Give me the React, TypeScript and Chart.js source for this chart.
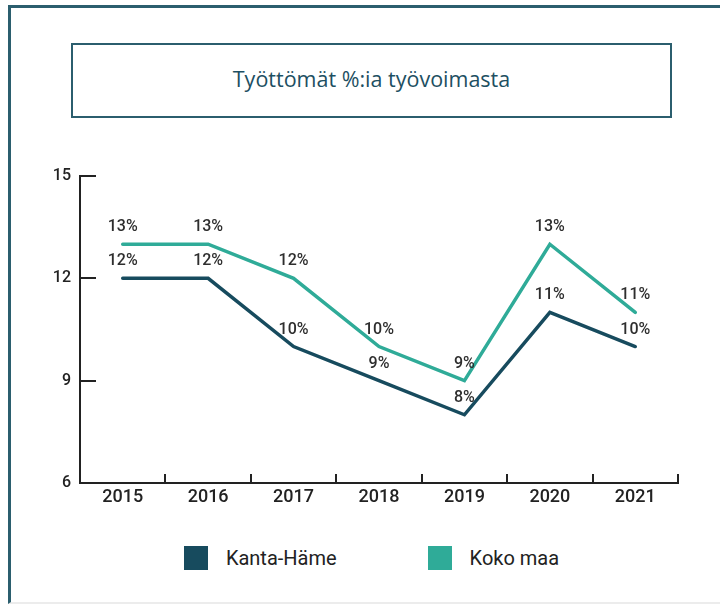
import React, { useEffect, useRef } from 'react';
import { Chart, registerables } from 'chart.js';

Chart.register(...registerables);

const years = ['2015', '2016', '2017', '2018', '2019', '2020', '2021'];
const kantaHame = [12, 12, 10, 9, 8, 11, 10];
const kokoMaa = [13, 13, 12, 10, 9, 13, 11];
const seriesNames = ['Kanta-Häme', 'Koko maa'];
const yMin = 6;
const yMax = 15;
const yStep = 3;
const titleText = 'Työttömät %:ia työvoimasta';

const DARK = '#174b5e';
const TEAL = '#2fab98';
const FRAME = '#2b5e6e';
const AXIS = '#222222';

const decorPlugin = {
  id: 'decor',
  afterDraw(chart: any) {
    const ctx = chart.ctx;
    const xs = chart.scales.x;
    const ys = chart.scales.y;
    ctx.save();
    ctx.strokeStyle = AXIS;
    ctx.lineWidth = 2;
    ys.ticks.forEach((_t: any, i: number) => {
      const py = Math.round(ys.getPixelForTick(i));
      ctx.beginPath();
      ctx.moveTo(xs.left, py);
      ctx.lineTo(xs.left + 16, py);
      ctx.stroke();
    });
    xs.ticks.forEach((_t: any, i: number) => {
      const px = Math.round(xs.getPixelForValue(i + 0.5));
      ctx.beginPath();
      ctx.moveTo(px, ys.bottom);
      ctx.lineTo(px, ys.bottom - 9);
      ctx.stroke();
    });
    ctx.restore();
  },
  afterDatasetsDraw(chart: any) {
    const ctx = chart.ctx;
    ctx.save();
    ctx.font = '500 16px Roboto';
    ctx.fillStyle = '#2e2e2e';
    ctx.textAlign = 'center';
    ctx.textBaseline = 'middle';
    chart.data.datasets.forEach((ds: any, di: number) => {
      const meta = chart.getDatasetMeta(di);
      meta.data.forEach((pt: any, i: number) => {
        ctx.fillText(`${ds.data[i]}%`, pt.x, pt.y - 17);
      });
    });
    ctx.restore();
  },
};

export default function App() {
  const canvasRef = useRef<HTMLCanvasElement | null>(null);

  useEffect(() => {
    if (!canvasRef.current) return;
    const chart = new Chart(canvasRef.current, {
      type: 'line',
      data: {
        labels: years,
        datasets: [
          {
            label: seriesNames[0],
            data: kantaHame,
            borderColor: DARK,
            backgroundColor: DARK,
            borderWidth: 3.5,
            pointRadius: 0,
            tension: 0,
            borderCapStyle: 'round',
            borderJoinStyle: 'miter',
          },
          {
            label: seriesNames[1],
            data: kokoMaa,
            borderColor: TEAL,
            backgroundColor: TEAL,
            borderWidth: 3.5,
            pointRadius: 0,
            tension: 0,
            borderCapStyle: 'round',
            borderJoinStyle: 'miter',
          },
        ],
      },
      options: {
        responsive: false,
        animation: false,
        layout: { padding: { top: 176, left: 40, right: 42, bottom: 17 } },
        plugins: {
          legend: { display: false },
          tooltip: { enabled: false },
          title: { display: false },
        },
        scales: {
          x: {
            type: 'category',
            offset: true,
            afterFit: (s: any) => { s.height = 30; },
            grid: { display: true, offset: true, drawOnChartArea: false, drawTicks: false },
            border: { display: true, color: AXIS, width: 2 },
            ticks: {
              color: '#222222',
              font: { family: 'Roboto', size: 18, weight: '500' },
              padding: 4,
              maxRotation: 0,
            },
          },
          y: {
            min: yMin,
            max: yMax,
            afterFit: (s: any) => { s.width = 40; },
            grid: { display: true, drawOnChartArea: false, drawTicks: false },
            border: { display: true, color: AXIS, width: 2 },
            ticks: {
              stepSize: yStep,
              color: '#222222',
              font: { family: 'Roboto', size: 16, weight: '500' },
              padding: 9,
            },
          },
        },
      },
      plugins: [decorPlugin],
    } as any);
    return () => chart.destroy();
  }, []);

  return (
    <div style={{ position: 'absolute', left: 0, top: 0, width: 720, height: 605, overflow: 'hidden', background: '#ffffff' }}>
      <div
        style={{
          position: 'absolute', left: 8, top: 5, width: 712, height: 599,
          borderTop: `3px solid ${FRAME}`, borderLeft: `3px solid ${FRAME}`,
          borderBottom: '2px solid #ececec', boxSizing: 'border-box',
        }}
      />
      <div
        style={{
          position: 'absolute', left: 71, top: 43, width: 601, height: 75,
          border: `2px solid ${FRAME}`, boxSizing: 'border-box',
          display: 'flex', alignItems: 'center', justifyContent: 'center',
          paddingBottom: 5,
          fontFamily: '"Open Sans", sans-serif', fontSize: 21.5, color: '#1d4f62',
        }}
      >
        {titleText}
      </div>
      <canvas
        ref={canvasRef}
        width={720}
        height={530}
        style={{ position: 'absolute', left: 0, top: 0, width: 720, height: 530, display: 'block' }}
      />
      <div
        style={{
          position: 'absolute', left: 0, top: 546, width: 743, height: 24,
          display: 'flex', justifyContent: 'center', alignItems: 'center',
          fontFamily: 'Roboto, sans-serif', fontSize: 20, color: '#222222',
        }}
      >
        <span style={{ display: 'inline-block', width: 24, height: 24, background: DARK, marginRight: 18 }} />
        <span style={{ marginRight: 91 }}>{seriesNames[0]}</span>
        <span style={{ display: 'inline-block', width: 24, height: 24, background: TEAL, marginRight: 18 }} />
        <span>{seriesNames[1]}</span>
      </div>
    </div>
  );
}
